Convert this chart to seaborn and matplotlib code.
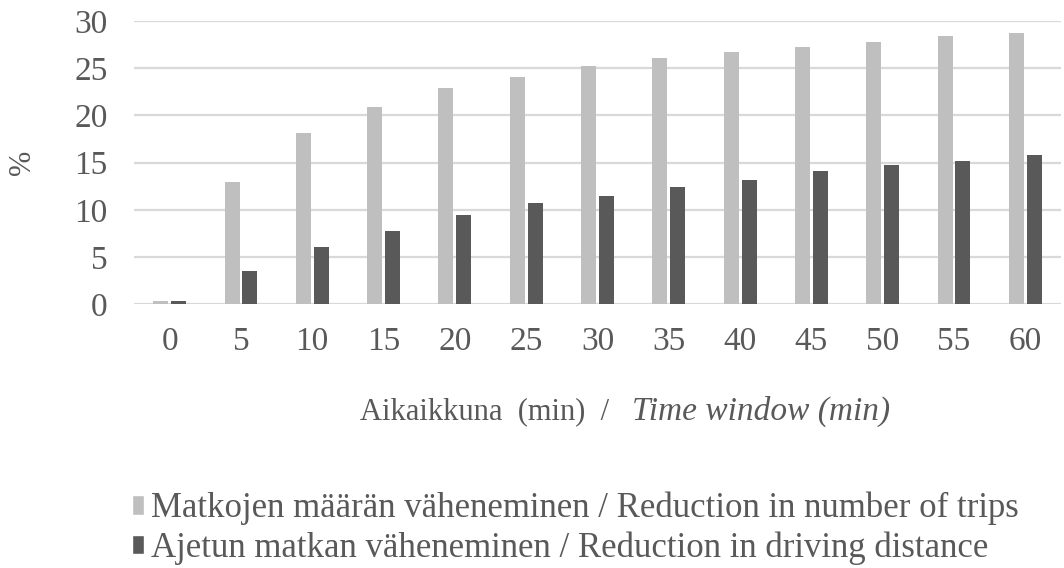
import matplotlib
matplotlib.use("Agg")
import matplotlib.pyplot as plt
import seaborn as sns
import pandas as pd
from matplotlib.patches import Patch

# Time windows (min) and the two reduction series (%)
time_windows = [0, 5, 10, 15, 20, 25, 30, 35, 40, 45, 50, 55, 60]
trip_reduction = [0.3, 13.0, 18.1, 20.9, 22.9, 24.1, 25.2, 26.1, 26.7, 27.3, 27.8, 28.4, 28.7]
distance_reduction = [0.35, 3.5, 6.1, 7.8, 9.5, 10.7, 11.5, 12.4, 13.2, 14.1, 14.7, 15.2, 15.8]
series_names = [
    "Matkojen määrän väheneminen / Reduction in number of trips",
    "Ajetun matkan väheneminen / Reduction in driving distance",
]
y_ticks = [0, 5, 10, 15, 20, 25, 30]

LIGHT = "#bfbfbf"
DARK = "#595959"
TEXT = "#595959"
GRID = "#d9d9d9"
SERIF = "Liberation Serif"

df = pd.DataFrame({
    "window": [str(t) for t in time_windows] * 2,
    "value": trip_reduction + distance_reduction,
    "series": [series_names[0]] * len(time_windows) + [series_names[1]] * len(time_windows),
})

sns.set_theme(style="white")
plt.rcParams["font.family"] = [SERIF, "DejaVu Serif"]

fig = plt.figure(figsize=(10.64, 5.68), dpi=100)
ax = fig.add_axes([0.1259, 0.4643, 0.8713, 0.4987])

sns.barplot(
    data=df, x="window", y="value", hue="series",
    palette=[LIGHT, DARK], width=0.5, gap=0.16, ax=ax,
    legend=False, saturation=1, edgecolor="none",
)

ax.set_ylim(0, 30)
ax.set_xlim(-0.5, len(time_windows) - 0.5)
ax.set_yticks(y_ticks)
ax.set_yticklabels([str(v) for v in y_ticks])
ax.yaxis.grid(True, color=GRID, linewidth=1.6)
ax.set_axisbelow(True)
for s in ax.spines.values():
    s.set_visible(False)
ax.tick_params(axis="both", length=0, labelsize=24, labelcolor=TEXT)
ax.tick_params(axis="y", pad=19)
ax.tick_params(axis="x", pad=16)
ax.set_xlabel("")
ax.set_ylabel("")

# Axis titles
fig.text(0.021, 0.715, "%", rotation=90, ha="center", va="center",
         fontsize=22, color=TEXT)
fig.text(0.338, 0.275, "Aikaikkuna  (min)  / ", ha="left", va="center",
         fontsize=22, color=TEXT)
fig.text(0.594, 0.275, "Time window (min)", ha="left", va="center",
         fontsize=24, color=TEXT, style="italic")

# Legend
handles = [Patch(facecolor=LIGHT), Patch(facecolor=DARK)]
leg = fig.legend(handles, series_names, loc="upper left",
                 bbox_to_anchor=(0.124, 0.1345), frameon=False,
                 fontsize=25, handlelength=0.36, handleheight=0.5,
                 handletextpad=0.2, labelspacing=0.18, labelcolor=TEXT,
                 borderaxespad=0, borderpad=0)

fig.savefig("out.png", dpi=100)
